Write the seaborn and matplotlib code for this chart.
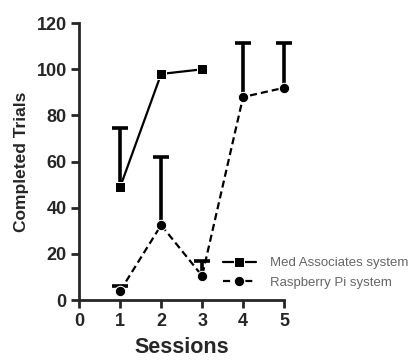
import matplotlib
matplotlib.use("Agg")
import matplotlib.pyplot as plt
import seaborn as sns
import numpy as np
import pandas as pd

sessions = [1, 2, 3, 4, 5]
med_sessions = [1, 2, 3]
med_mean = [49, 98, 100]
med_upper = [74.5, 98, 100]
rpi_mean = [4, 32.5, 10.5, 88, 92]
rpi_upper = [6, 62, 17, 111.5, 111.5]
series_names = ["Med Associates system", "Raspberry Pi system"]

sns.set_style("ticks")
plt.rcParams['font.family'] = ['Liberation Sans', 'DejaVu Sans']

fig = plt.figure(figsize=(4.19, 3.62), dpi=100)
ax = fig.add_axes([0.189, 0.171, 0.489, 0.765])

df = pd.concat([
    pd.DataFrame({"Session": med_sessions, "Trials": med_mean, "System": series_names[0]}),
    pd.DataFrame({"Session": sessions, "Trials": rpi_mean, "System": series_names[1]}),
])

sns.lineplot(data=df, x="Session", y="Trials", hue="System", style="System",
             markers={series_names[0]: "s", series_names[1]: "o"},
             dashes={series_names[0]: "", series_names[1]: (3.2, 1.8)},
             palette={series_names[0]: "black", series_names[1]: "black"},
             markersize=7.5, linewidth=1.6, ax=ax, legend=True, zorder=3,
             clip_on=False)

for xs, m, u in [(med_sessions, med_mean, med_upper), (sessions, rpi_mean, rpi_upper)]:
    xs = np.array(xs, dtype=float)
    m = np.array(m, dtype=float); u = np.array(u, dtype=float)
    keep = u > m
    eb = ax.errorbar(xs[keep], m[keep], yerr=[np.zeros(keep.sum()), (u - m)[keep]],
                     fmt="none", ecolor="black",
                     elinewidth=2.6, capsize=5.5, capthick=2.6, zorder=2)
    caps = eb[1]
    caps[0].set_visible(False)
    for c in caps:
        c.set_clip_on(False)
    for b in eb[2]:
        b.set_clip_on(False)

ax.set_xlim(0, 5)
ax.set_ylim(0, 120)
ax.set_xticks([0, 1, 2, 3, 4, 5])
ax.set_yticks([0, 20, 40, 60, 80, 100, 120])
ax.tick_params(axis="both", width=2, length=6, labelsize=13, pad=3)
for lab in ax.get_xticklabels() + ax.get_yticklabels():
    lab.set_fontweight("bold")
for s in ["left", "bottom"]:
    ax.spines[s].set_linewidth(2)
sns.despine(ax=ax)
ax.set_xlabel("Sessions", fontsize=15.5, fontweight="bold", labelpad=5)
ax.set_ylabel("Completed Trials", fontsize=12.5, fontweight="bold", labelpad=5)

leg = ax.legend(loc="center left", bbox_to_anchor=(0.70, 0.098), frameon=False,
                fontsize=9.5, handlelength=2.5, labelspacing=0.55, handletextpad=1.1,
                borderaxespad=0, borderpad=0)
for t in leg.get_texts():
    t.set_color("#666666")

fig.savefig("out.png", dpi=100)
